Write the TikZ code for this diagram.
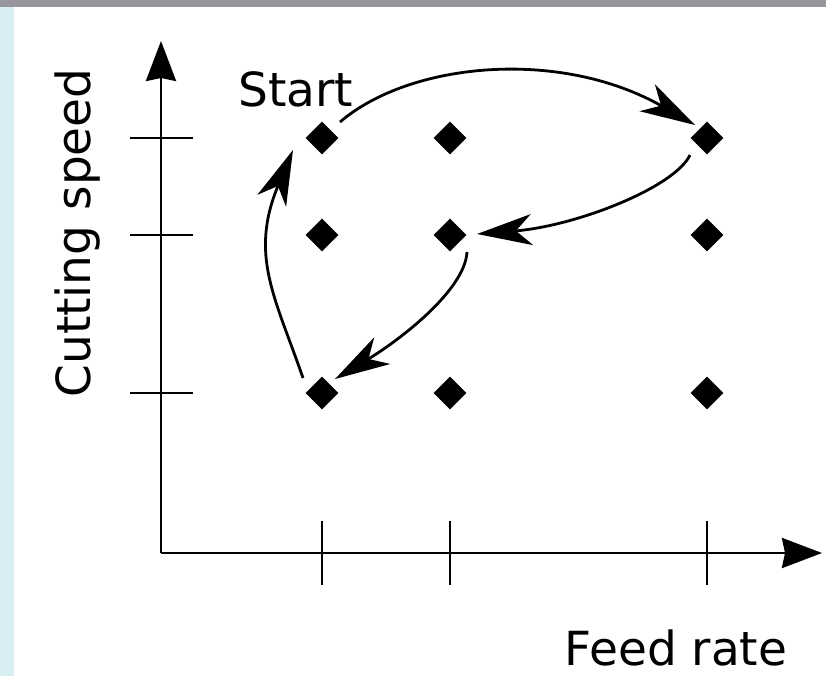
\documentclass[tikz,border=0pt]{standalone}
\usepackage{fontspec}
\setmainfont{DejaVu Sans}
\usetikzlibrary{arrows.meta,shapes.geometric,calc}
\definecolor{barGray}{RGB}{150,150,156}
\definecolor{sideBlue}{RGB}{217,238,243}
\tikzset{
  pt/.style={diamond,fill=black,inner sep=0pt,minimum width=33pt,minimum height=33pt},
  axis/.style={line width=2.8pt,-{Stealth[length=40pt,width=30pt,inset=3pt]}},
  tick/.style={line width=2.6pt},
  move/.style={line width=2.8pt,-{Stealth[length=55pt,width=31pt,inset=16pt]}},
  lbl/.style={font=\fontsize{47}{56}\selectfont,inner sep=0pt}
}
\begin{document}
\begin{tikzpicture}[x=1pt,y=-1pt]
\useasboundingbox (0,0) rectangle (826,676);
\fill[white] (0,0) rectangle (826,676);
\fill[sideBlue] (0,7) rectangle (14,676);
\fill[barGray] (0,0) rectangle (826,7);
% axes
\coordinate (O) at (161,553);
\coordinate (ytop) at (161,41);
\coordinate (xend) at (822,553);
\draw[axis] (O) -- (ytop);
\draw[axis] (O) -- (xend);
% ticks
\foreach \yy/\n in {138/a,235/b,393/c}{
  \coordinate (yl\n) at (130,\yy);
  \coordinate (yr\n) at (193,\yy);
  \draw[tick] (yl\n) -- (yr\n);
}
\foreach \xx/\n in {322/a,450/b,707/c}{
  \coordinate (xt\n) at (\xx,521);
  \coordinate (xb\n) at (\xx,585);
  \draw[tick] (xt\n) -- (xb\n);
}
% points
\node[pt] (d11) at (322,138) {};
\node[pt] (d12) at (450,138) {};
\node[pt] (d13) at (707,138) {};
\node[pt] (d21) at (322,235) {};
\node[pt] (d22) at (450,235) {};
\node[pt] (d23) at (707,235) {};
\node[pt] (d31) at (322,393) {};
\node[pt] (d32) at (450,393) {};
\node[pt] (d33) at (707,393) {};
% labels
\node[lbl,anchor=base] (start) at (296,107) {Start};
\node[lbl,anchor=base] (feed) at (676,665) {Feed rate};
\node[lbl,rotate=90] (speed) at (78,233) {Cutting speed};
% moves
\draw[move] ($(d11)+(18,-16)$) .. controls (410,62) and (560,48) .. ($(d13)+(-12,-13)$);
\draw[move] ($(d13)+(-17,17)$) .. controls (675,187) and (577,226) .. ($(d22)+(27,-1)$);
\draw[move] ($(d22)+(17,17)$) .. controls (465,290) and (400,340) .. ($(d31)+(13,-14)$);
\draw[move] ($(d31)+(-19,-15)$) .. controls (275,297) and (249,255) .. ($(d11)+(-29,12)$);
\end{tikzpicture}
\end{document}
